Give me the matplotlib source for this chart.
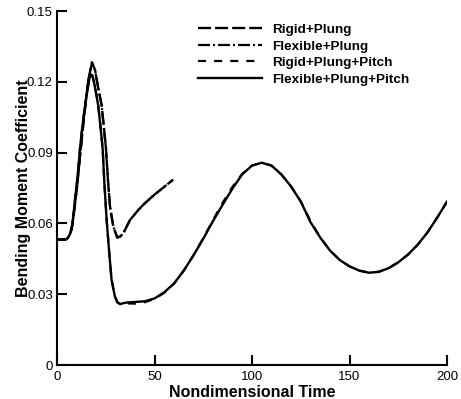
import matplotlib
matplotlib.use('Agg')
import matplotlib.pyplot as plt

plt.rcParams['font.family'] = ['Liberation Sans', 'DejaVu Sans']
plt.rcParams['lines.scale_dashes'] = False

# plunge only runs (stop at t = 60)
t_plung = [0, 4.5, 5.5, 6.5, 7.5, 8.5, 9.5, 10.5, 12, 14, 16, 17.9, 19.5, 21,
           22.9, 24, 25.1, 26.3, 27.2, 28.9, 30.9, 32.5, 34, 37.4, 41.7, 45,
           50, 55, 59.5]
rigid_plung = [.0532, .0532, .0538, .0552, .0575, .0630, .0700, .0770, .0900,
               .1060, .1205, .1283, .1250, .1180, .1100, .1010, .0918, .0763,
               .0670, .0586, .0540, .0545, .0558, .0614, .0657, .0685, .0722,
               .0755, .0785]
flex_plung = [.0532, .0532, .0538, .0552, .0575, .0630, .0700, .0770, .0900,
              .1060, .1203, .1280, .1250, .1180, .1100, .1010, .0918, .0763,
              .0670, .0586, .0540, .0545, .0558, .0614, .0657, .0685, .0722,
              .0755, .0785]

# plunge + pitch runs (full length)
t_pitch = [0, 4.5, 5.5, 6.5, 7.5, 8.5, 9.2, 10.1, 11, 11.8, 13, 14.4, 15.5,
           16.5, 17.3, 18.2, 19.2, 20.2, 21.2, 22.3, 23.4, 24.3, 25.5, 26.8,
           28, 29.7, 31, 32.5, 34, 36, 40, 45, 50, 55, 60, 65, 70, 75, 80, 85,
           90, 95, 100, 105, 110, 115, 120, 125, 130, 135, 140, 145, 150, 155,
           160, 165, 170, 175, 180, 185, 190, 195, 200]
flex_plung_pitch = [.0532, .0532, .0538, .0552, .0578, .0640, .0700, .0763,
                    .0840, .0918, .1010, .1100, .1160, .1210, .1232, .1225,
                    .1190, .1145, .1095, .1010, .0918, .0770, .0610, .0474,
                    .0360, .0290, .0265, .0258, .0262, .0265, .0267, .0270,
                    .0282, .0308, .0345, .0400, .0465, .0535, .0610, .0680,
                    .0748, .0808, .0845, .0857, .0845, .0808, .0757, .0693,
                    .0605, .0540, .0485, .0445, .0418, .0400, .0391, .0395,
                    .0410, .0435, .0468, .0510, .0562, .0625, .0692]
rigid_plung_pitch = [.0532, .0532, .0538, .0552, .0578, .0640, .0700, .0763,
                     .0840, .0918, .1010, .1100, .1160, .1210, .1232, .1225,
                     .1190, .1145, .1095, .1010, .0918, .0770, .0610, .0474,
                     .0360, .0290, .0265, .0258, .0260, .0261, .0260, .0266,
                     .0280, .0306, .0345, .0400, .0465, .0537, .0614, .0688,
                     .0755, .0810, .0845, .0857, .0845, .0808, .0757, .0693,
                     .0610, .0540, .0485, .0445, .0418, .0400, .0391, .0395,
                     .0410, .0435, .0468, .0510, .0562, .0625, .0692]

fig = plt.figure(figsize=(4.61, 3.99), dpi=100)
ax = fig.add_axes([57/461, 34/399, 390/461, 354/399])

ax.plot(t_plung, flex_plung, color='black', lw=1.6, dashes=(8.6, 2.2, 1.4, 2.2),
        label='Flexible+Plung', zorder=1)
ax.plot(t_plung, rigid_plung, color='black', lw=1.7, dashes=(9.4, 2.9),
        label='Rigid+Plung', zorder=2)
ax.plot(t_pitch, rigid_plung_pitch, color='black', lw=1.6, dashes=(5.8, 5.8),
        label='Rigid+Plung+Pitch', zorder=3)
ax.plot(t_pitch, flex_plung_pitch, color='black', lw=1.7, ls='-',
        label='Flexible+Plung+Pitch', zorder=4)

ax.set_xlim(0, 200)
ax.set_ylim(0, 0.15)
ax.set_xticks([0, 50, 100, 150, 200])
ax.set_yticks([0, 0.03, 0.06, 0.09, 0.12, 0.15])
ax.set_yticklabels(['0', '0.03', '0.06', '0.09', '0.12', '0.15'])

ax.spines['top'].set_visible(False)
ax.spines['right'].set_visible(False)
ax.spines['left'].set_linewidth(1.5)
ax.spines['bottom'].set_linewidth(1.5)
ax.tick_params(direction='in', length=7, width=1.5, labelsize=9.5, pad=3)
ax.tick_params(axis='x', pad=4)

ax.set_xlabel('Nondimensional Time', fontsize=11.5, fontweight='bold', labelpad=2)
ax.set_ylabel('Bending Moment Coefficient', fontsize=11.5, fontweight='bold')
ax.yaxis.set_label_coords(-0.066, 0.5)

h, l = ax.get_legend_handles_labels()
order = [1, 0, 2, 3]
ax.legend([h[i] for i in order], [l[i] for i in order], loc='upper left',
          bbox_to_anchor=(0.344, 0.983), frameon=False, borderpad=0,
          handlelength=4.74, handletextpad=0.74, labelspacing=0.3,
          prop={'weight': 'bold', 'size': 9.7})

fig.savefig('out.png', dpi=100)
